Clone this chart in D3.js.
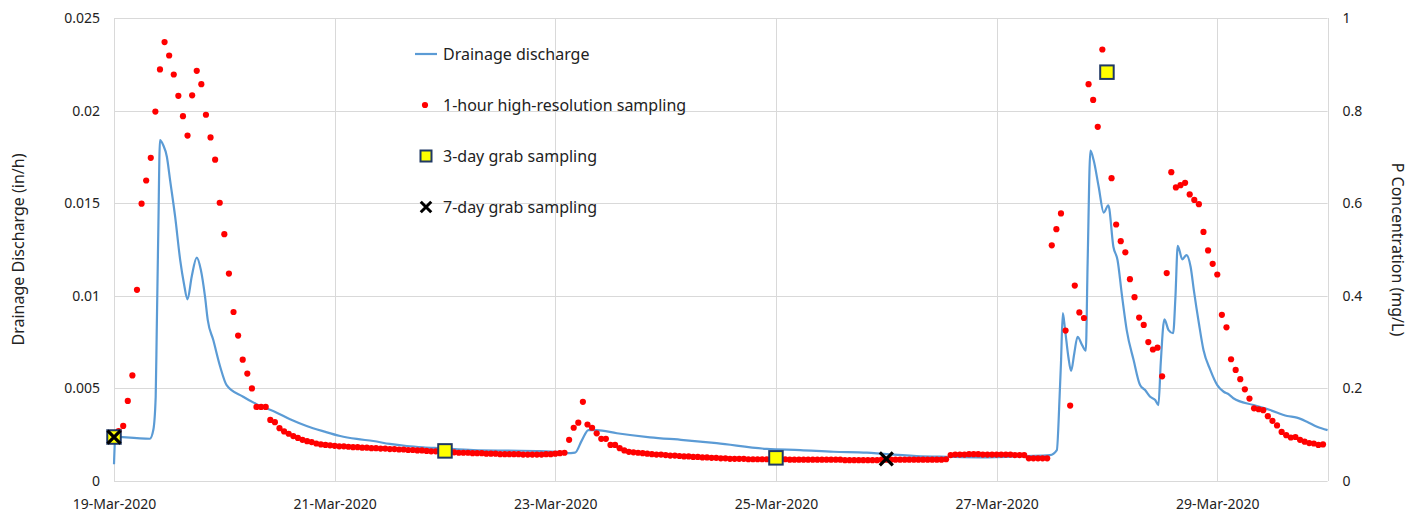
<!DOCTYPE html>
<html>
<head>
<meta charset="utf-8">
<script src="https://cdn.jsdelivr.net/npm/d3@7"></script>
<style>
  body { margin: 0; background: #fff; }
  svg text { font-family: "Noto Sans", sans-serif; fill: #222; }
</style>
</head>
<body>
<svg id="chart" width="1419" height="512"></svg>
<script>
// drainage discharge (in/h), hours after 19-Mar-2020 00:00
const dischargeHours = [0, 0.3, 1.3, 7.8, 8.55, 9.07, 9.3, 9.64, 10.0, 10.7, 11.5, 12.2, 13.3, 14.4, 15.2, 16.0, 16.9, 18.0, 18.9, 19.8,
  20.4, 21.6, 23.1, 24.5, 28.1, 31.0, 35.4, 38.3, 41.9, 45.6, 49.2, 52.8, 56.4, 60.0, 63.7, 67.3, 70.9, 78.2, 85.4, 92.7,
  97.0, 98.5, 100.3, 101.8, 103.2, 105, 109.4, 116.6, 123.9, 131.1, 142.0, 149.3, 156.5, 163.8, 167.4, 174.6, 181.2, 188.4, 198.6, 203.6,
  205.1, 205.7, 206.0, 206.4, 206.9, 207.6, 208.2, 208.9, 209.6, 210.6, 211.4, 211.8, 212.4, 213.1, 214.2, 215.3, 216.3, 217.4, 218.3, 219.3,
  220.3, 221.8, 223.2, 224.3, 225.4, 226.5, 227.2, 227.7, 228.5, 229.4, 230.4, 230.9, 231.4, 232.4, 233.3, 234.2, 234.9, 236.0, 237.0, 238.5,
  240.0, 241.4, 242.4, 243.5, 247.9, 251.5, 255.2, 257.3, 259.5, 261.7, 264.0]
const dischargeValues = [0.0009, 0.0024, 0.00238, 0.00228, 0.00275, 0.00455, 0.00815, 0.01355, 0.01841, 0.01814, 0.01751, 0.01625, 0.01427, 0.01193, 0.01068, 0.00981, 0.01103, 0.01206, 0.01139, 0.00995,
  0.00869, 0.00761, 0.00617, 0.00518, 0.00455, 0.00415, 0.00369, 0.00333, 0.00297, 0.00268, 0.00243, 0.00227, 0.00216, 0.0020, 0.00189, 0.00182, 0.00177, 0.00167, 0.00164, 0.00162,
  0.00157, 0.00150, 0.00153, 0.00221, 0.00275, 0.00275, 0.00258, 0.00236, 0.00221, 0.00204, 0.00173, 0.00167, 0.00158, 0.00153, 0.00146, 0.00135, 0.00131, 0.00128, 0.00135, 0.00140,
  0.00167, 0.00455, 0.00637, 0.00906, 0.00815, 0.00671, 0.00594, 0.00690, 0.00779, 0.00734, 0.00704, 0.0118, 0.01784, 0.01733, 0.01589, 0.01449, 0.01489, 0.01265, 0.01193, 0.00995,
  0.00815, 0.00653, 0.00518, 0.00491, 0.00455, 0.00437, 0.0041, 0.00636, 0.00873, 0.00815, 0.00798, 0.00995, 0.0127, 0.01197, 0.0122, 0.01157, 0.01031, 0.00852, 0.00707, 0.00599,
  0.00518, 0.00482, 0.0047, 0.00447, 0.0041, 0.00383, 0.00351, 0.00342, 0.0032, 0.00293, 0.00275]

// 1-hour sampling P concentration (mg/L), one value per hour from 19-Mar-2020 00:00
const hourlyConc = [
  0.095, 0.108, 0.119, 0.173, 0.228, 0.413, 0.599, 0.649, 0.698, 0.798, 0.889, 0.948, 0.919, 0.878, 0.832, 0.788, 0.746, 0.833, 0.886, 0.857, 0.791, 0.742, 0.694, 0.601,
  0.533, 0.448, 0.365, 0.314, 0.262, 0.232, 0.200, 0.160, 0.160, 0.160, 0.132, 0.127, 0.114, 0.107, 0.102, 0.097, 0.093, 0.089, 0.086, 0.084, 0.081, 0.079, 0.078, 0.077,
  0.076, 0.075, 0.075, 0.074, 0.073, 0.073, 0.072, 0.072, 0.071, 0.071, 0.070, 0.070, 0.069, 0.069, 0.068, 0.068, 0.067, 0.067, 0.066, 0.066, 0.065, 0.064, 0.064, 0.063,
  0.063, 0.062, 0.062, 0.061, 0.061, 0.061, 0.060, 0.060, 0.060, 0.059, 0.059, 0.059, 0.058, 0.058, 0.058, 0.058, 0.058, 0.057, 0.057, 0.057, 0.057, 0.057, 0.058, 0.058,
  0.059, 0.060, 0.061, 0.089, 0.115, 0.126, 0.171, 0.122, 0.115, 0.103, 0.091, 0.091, 0.078, 0.078, 0.071, 0.066, 0.063, 0.062, 0.061, 0.060, 0.059, 0.058, 0.057, 0.057,
  0.056, 0.055, 0.055, 0.054, 0.053, 0.053, 0.052, 0.052, 0.051, 0.051, 0.050, 0.050, 0.049, 0.049, 0.048, 0.048, 0.048, 0.048, 0.047, 0.047, 0.047, 0.047, 0.047, 0.047,
  0.047, 0.047, 0.047, 0.046, 0.046, 0.046, 0.046, 0.046, 0.046, 0.046, 0.046, 0.046, 0.046, 0.046, 0.046, 0.045, 0.045, 0.045, 0.045, 0.045, 0.045, 0.045, 0.045, 0.046,
  0.046, 0.046, 0.046, 0.046, 0.046, 0.046, 0.046, 0.046, 0.046, 0.046, 0.046, 0.046, 0.046, 0.047, 0.056, 0.057, 0.057, 0.057, 0.058, 0.058, 0.058, 0.057, 0.057, 0.057,
  0.057, 0.057, 0.057, 0.057, 0.056, 0.056, 0.056, 0.049, 0.049, 0.049, 0.049, 0.049, 0.509, 0.544, 0.578, 0.325, 0.163, 0.422, 0.364, 0.352, 0.857, 0.823, 0.765, 0.932,
  0.885, 0.654, 0.554, 0.518, 0.494, 0.436, 0.397, 0.353, 0.337, 0.300, 0.284, 0.288, 0.226, 0.449, 0.667, 0.634, 0.639, 0.644, 0.619, 0.607, 0.598, 0.538, 0.498, 0.469,
  0.446, 0.359, 0.332, 0.263, 0.240, 0.220, 0.198, 0.178, 0.157, 0.155, 0.153, 0.140, 0.130, 0.120, 0.106, 0.099, 0.094, 0.095, 0.089, 0.085, 0.082, 0.081, 0.078, 0.079
]

const grab3Dates = ['2020-03-19', '2020-03-22', '2020-03-25', '2020-03-28']
const grab3Conc = [0.095, 0.065, 0.050, 0.883]
const grab7Dates = ['2020-03-19', '2020-03-26']
const grab7Conc = [0.095, 0.048]

const leftTicks = [0, 0.005, 0.01, 0.015, 0.02, 0.025]
const rightTicks = [0, 0.2, 0.4, 0.6, 0.8, 1]
const legendLabels = ['Drainage discharge', '1-hour high-resolution sampling', '3-day grab sampling', '7-day grab sampling']

const parseDay = d3.timeParse('%Y-%m-%d')
const start = parseDay('2020-03-19')
const atHour = h => new Date(start.getTime() + h * 3600e3)

const plot = {left: 114, right: 1327.6, top: 18, bottom: 481}
const svg = d3.select('#chart')

const x = d3.scaleTime().domain([start, parseDay('2020-03-30')]).range([plot.left, plot.right])
const yL = d3.scaleLinear().domain([0, 0.025]).range([plot.bottom, plot.top])
const yR = d3.scaleLinear().domain([0, 1]).range([plot.bottom, plot.top])
const xTicks = d3.timeDay.range(start, parseDay('2020-03-30'), 2)

// gridlines
const grid = svg.append('g').attr('stroke', '#d9d9d9').attr('stroke-width', 1)
grid.selectAll('.h').data(leftTicks).enter().append('line')
    .attr('x1', plot.left).attr('x2', plot.right)
    .attr('y1', d => Math.round(yL(d)) + 0.5).attr('y2', d => Math.round(yL(d)) + 0.5)
grid.selectAll('.v').data(xTicks.concat([parseDay('2020-03-30')])).enter().append('line')
    .attr('x1', d => Math.round(x(d)) + 0.5).attr('x2', d => Math.round(x(d)) + 0.5)
    .attr('y1', plot.top).attr('y2', plot.bottom)

// axes
const leftAxis = svg.append('g')
    .attr('transform', `translate(${plot.left},0)`)
    .call(d3.axisLeft(yL).tickValues(leftTicks).tickSize(0).tickPadding(14).tickFormat(d => d === 0 ? '0' : d3.format('.3~f')(d)))
const rightAxis = svg.append('g')
    .attr('transform', `translate(${plot.right},0)`)
    .call(d3.axisRight(yR).tickValues(rightTicks).tickSize(0).tickPadding(15).tickFormat(d3.format('~g')))
const bottomAxis = svg.append('g')
    .attr('transform', `translate(0,${plot.bottom})`)
    .call(d3.axisBottom(x).tickValues(xTicks).tickSize(0).tickPadding(18).tickFormat(d3.timeFormat('%d-%b-%Y')))
;[leftAxis, rightAxis, bottomAxis].forEach(a => {
    a.select('.domain').remove()
    a.selectAll('text').style('font-family', '"Noto Sans", sans-serif').style('font-size', '14px').attr('fill', '#222')
})

svg.append('text')
    .attr('transform', `translate(24,${(plot.top + plot.bottom) / 2}) rotate(-90)`)
    .attr('text-anchor', 'middle').style('font-size', '16px')
    .text('Drainage Discharge (in/h)')
svg.append('text')
    .attr('transform', `translate(1392,${(plot.top + plot.bottom) / 2}) rotate(90)`)
    .attr('text-anchor', 'middle').style('font-size', '16px')
    .text('P Concentration (mg/L)')

// discharge line
const line = d3.line()
    .x(d => x(atHour(d[0])))
    .y(d => yL(d[1]))
    .curve(d3.curveMonotoneX)
svg.append('path')
    .datum(dischargeHours.map((h, i) => [h, dischargeValues[i]]))
    .attr('fill', 'none').attr('stroke', '#5b9bd5').attr('stroke-width', 2.2)
    .attr('stroke-linejoin', 'round')
    .attr('d', line)

// hourly samples
svg.append('g').selectAll('circle').data(hourlyConc).enter().append('circle')
    .attr('cx', (d, i) => x(atHour(i)))
    .attr('cy', d => yR(d))
    .attr('r', 3.1)
    .attr('fill', '#ff0000')

const square = (g, cx, cy, s) => g.append('rect')
    .attr('x', cx - s / 2).attr('y', cy - s / 2).attr('width', s).attr('height', s)
    .attr('fill', '#ffff00').attr('stroke', '#1f3864').attr('stroke-width', 2)
const cross = (g, cx, cy, s, w) => g.append('path')
    .attr('d', `M${cx - s / 2},${cy - s / 2}L${cx + s / 2},${cy + s / 2}M${cx - s / 2},${cy + s / 2}L${cx + s / 2},${cy - s / 2}`)
    .attr('stroke', '#000').attr('stroke-width', w).attr('fill', 'none')

const marks = svg.append('g')
grab3Dates.forEach((d, i) => square(marks, x(parseDay(d)), yR(grab3Conc[i]), 13.5))
grab7Dates.forEach((d, i) => cross(marks, x(parseDay(d)), yR(grab7Conc[i]), 13, 3.2))

// legend
const legend = svg.append('g')
const legY = [54, 105, 156, 207]
legend.append('line').attr('x1', 415).attr('x2', 437).attr('y1', legY[0]).attr('y2', legY[0])
    .attr('stroke', '#5b9bd5').attr('stroke-width', 2.2)
legend.append('circle').attr('cx', 425).attr('cy', legY[1]).attr('r', 3.1).attr('fill', '#ff0000')
square(legend, 426, legY[2], 11)
cross(legend, 426, legY[3], 10.5, 3)
legend.selectAll('text').data(legendLabels).enter().append('text')
    .attr('x', 443).attr('y', (d, i) => legY[i])
    .attr('dy', '0.35em').style('font-size', '16px')
    .text(d => d)
</script>
</body>
</html>
